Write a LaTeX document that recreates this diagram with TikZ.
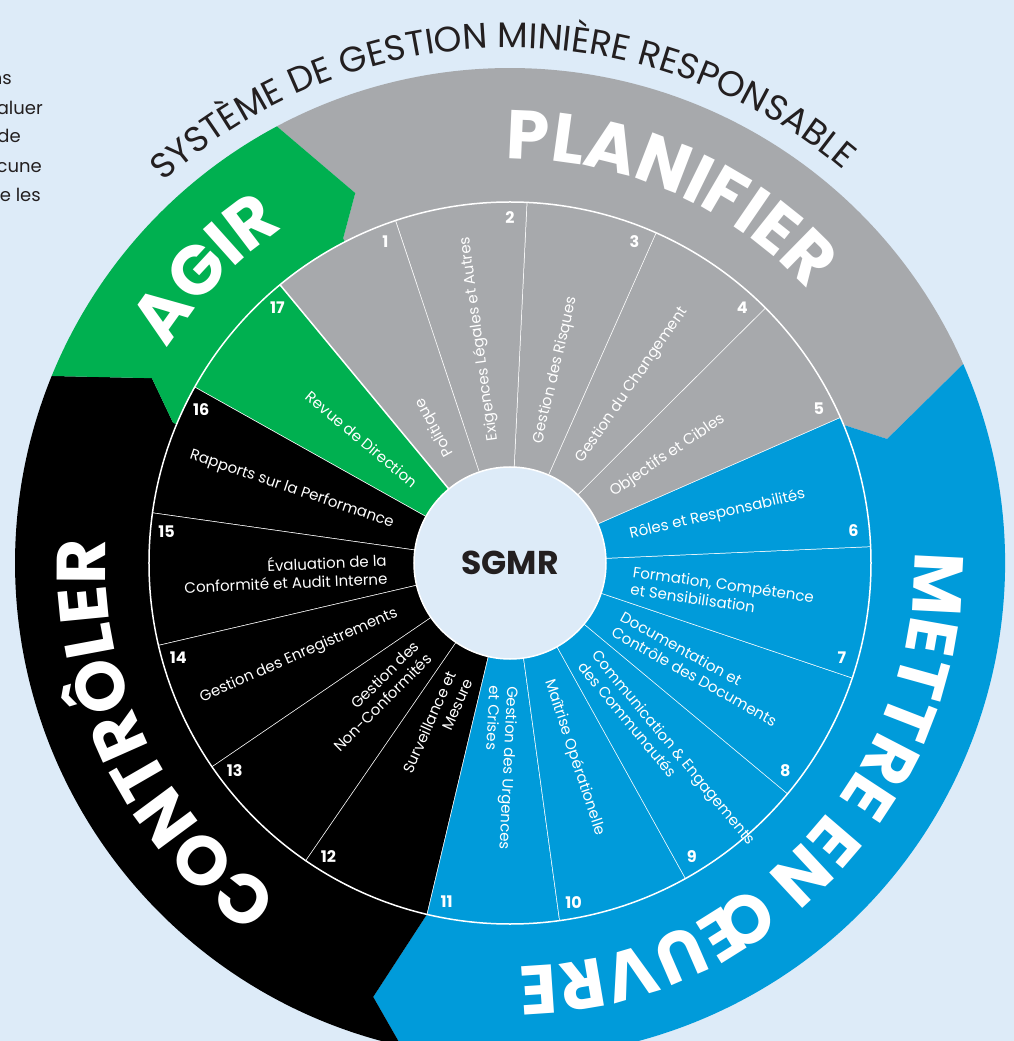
\documentclass[tikz,border=0pt]{standalone}
\usepackage{fontspec}
\setmainfont{Poppins}
\usepackage{tikz}
\usetikzlibrary{calc,decorations.text}
\tikzset{>=latex}

\definecolor{bgblue}{RGB}{221,235,248}
\definecolor{plangrey}{RGB}{167,169,172}
\definecolor{agirgreen}{RGB}{0,176,80}
\definecolor{mettreblue}{RGB}{0,155,218}
\definecolor{inktext}{RGB}{35,31,32}

\newcommand{\phasefont}{\fontsize{69}{69}\selectfont\bfseries}
\newcommand{\titlefont}{\fontsize{35.5}{35.5}\selectfont}

\tikzset{
segtext/.style={text=white, inner sep=0pt, font=\fontsize{15}{18}\selectfont},
segnum/.style={text=white, inner sep=0pt, font=\fontsize{16}{16}\selectfont\bfseries},
fragtext/.style={text=inktext, inner sep=0pt, anchor=base east, font=\fontsize{18}{18}\selectfont},
phase/.style={decorate, decoration={text along path, text align=center, text color=white, text={#1}}}
}

\begin{document}
\begin{tikzpicture}[x=1pt,y=1pt]
\fill[bgblue] (-510,-478) rectangle (504,563);
\useasboundingbox (-510,-478) rectangle (504,563);

\node[fragtext] (frag1) at (-498,478) {ns};
\node[fragtext] (frag2) at (-467,448) {aluer};
\node[fragtext] (frag3) at (-489,420) {de};
\node[fragtext] (frag4) at (-468,390) {cune};
\node[fragtext] (frag5) at (-469,361) {e les};

% phases
\fill[plangrey] (118.1:495) arc[start angle=118.1, end angle=23.7, radius=495] -- (18.2:397) -- (22.5:361) -- (0,0) -- (117.2:365) -- (112.7:401) -- cycle;
\fill[mettreblue] (23.7:495) arc[start angle=23.7, end angle=-102.7, radius=495] -- (-107.5:455) -- (-103.3:361) -- (0,0) -- (22.5:361) -- (18.2:397) -- cycle;
\fill[black] (257.3:495) arc[start angle=257.3, end angle=157.8, radius=495] -- (152.7:403) -- (157.4:365) -- (0,0) -- (-103.3:361) -- (-107.5:455) -- cycle;
\fill[agirgreen] (157.8:495) arc[start angle=157.8, end angle=118.1, radius=495] -- (112.7:401) -- (117.2:365) -- (0,0) -- (157.4:365) -- (152.7:403) -- cycle;

\path[phase={|\phasefont|PLANIFIER}] (126.5:404) arc[start angle=126.5, end angle=6.5, radius=404];
\path[phase={|\phasefont|METTRE EN ŒUVRE}] (36.4:404) arc[start angle=36.4, end angle=-123.6, radius=404];
\path[phase={|\phasefont|CONTRÔLER}] (266:404) arc[start angle=266, end angle=146, radius=404];
\path[phase={|\phasefont|AGIR}] (196:404) arc[start angle=196, end angle=76, radius=404];
\path[decorate, decoration={text along path, text align=center, text color=inktext, text={|\titlefont|SYSTÈME DE GESTION MINIÈRE RESPONSABLE}}] (171:515) arc[start angle=171, end angle=11, radius=515];

% elements
\foreach \i/\col/\txt in {
1/plangrey/Politique,
2/plangrey/Exigences Légales et Autres,
3/plangrey/Gestion des Risques,
4/plangrey/Gestion du Changement,
5/plangrey/Objectifs et Cibles,
6/mettreblue/Rôles et Responsabilités,
7/mettreblue/{Formation, Compétence\\et Sensibilisation},
8/mettreblue/{Documentation et\\Contrôle des Documents},
9/mettreblue/{Communication \& Engagements\\des Communautés},
10/mettreblue/Maîtrise Opérationelle,
11/mettreblue/{Gestion des Urgences\\et Crises},
12/black/{Surveillance et\\Mesure},
13/black/{Gestion des\\Non-Conformités},
14/black/Gestion des Enregistrements,
15/black/{Évaluation de la\\Conformité et Audit Interne},
16/black/Rapports sur la Performance,
17/agirgreen/Revue de Direction}{
\pgfmathsetmacro\c{140.17-21.1765*\i}
\pgfmathsetmacro\a{\c-10.588}
\pgfmathsetmacro\b{\c+10.588}
\pgfmathsetmacro\n{\c-7.8}
\fill[\col] (0,0) -- (\a:361) arc[start angle=\a, end angle=\b, radius=361] -- cycle;
\draw[white, line width=1.5] (\a:96) -- (\a:361);
\node[segnum] (num\i) at (\n:345) {\i};
\ifnum\i<12
\node[segtext, anchor=west, align=left, rotate=\c] (lab\i) at (\c:123) {\txt};
\else
\pgfmathsetmacro\r{\c+180}
\node[segtext, anchor=east, align=right, rotate=\r] (lab\i) at (\c:123) {\txt};
\fi
}
\draw[white, line width=1.5] (0,0) circle[radius=361];
\node[circle, fill=bgblue, draw=white, line width=1.5, minimum size=192, inner sep=0pt, text=inktext, font=\fontsize{33}{33}\selectfont\bfseries] (sgmr) at (0,0) {SGMR};
\end{tikzpicture}
\end{document}
